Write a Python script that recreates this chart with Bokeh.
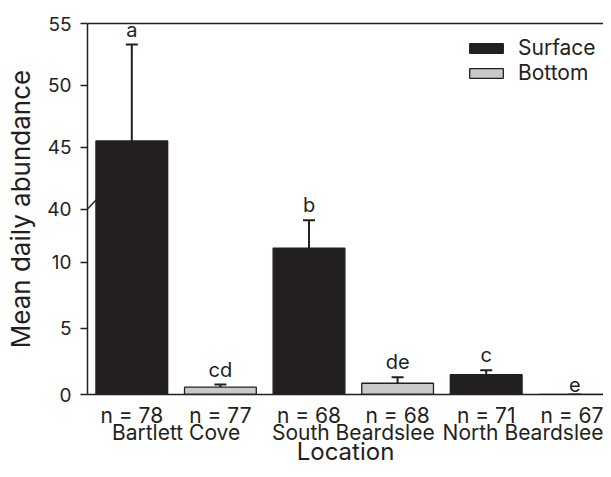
from bokeh.plotting import figure
from bokeh.models import (ColumnDataSource, Range1d, FixedTicker, LinearAxis,
                          CustomJSTickFormatter, CustomJSTransform, Whisker, TeeHead,
                          Legend, LegendItem, Arrow)
from bokeh.transform import transform
from bokeh.core.properties import value, field
from bokeh.embed import file_html
from bokeh.resources import INLINE

# ---------------- data ----------------
locations = ["Bartlett Cove", "South Beardslee", "North Beardslee"]
depths = ["Surface", "Bottom"]
n_labels = ["n = 78", "n = 77", "n = 68", "n = 68", "n = 71", "n = 67"]
surface_mean = [45.5, 11.05, 1.5]
surface_se = [7.8, 2.1, 0.33]
surface_letters = ["a", "b", "c"]
bottom_mean = [0.55, 0.85, 0.0]
bottom_se = [0.2, 0.45, 0.0]
bottom_letters = ["cd", "de", "e"]
y_ticks = [0, 5, 10, 40, 45, 50, 55]
x_title = "Location"
y_title = "Mean daily abundance"

# ---------------- style ----------------
FONT = "Inter"
INK = "#231f20"
GRAY = "#c8c9cb"
LT, UB, UT = 14.0, 40.0, 55.0      # lower segment top, upper segment bottom/top
K = 14.0 / 15.0                    # compression of upper segment
Y_MAX = LT + (UT - UB) * K
W, H = 603, 469
BL, BT, BB = 87, 23, 75
FRAME_W, FRAME_H = W - BL, H - BT - BB
X_END = FRAME_W / 88.6
N_BARS = 2 * len(locations)


def brk(y):
    if y <= LT:
        return y
    if y >= UB:
        return LT + (y - UB) * K
    return LT


brk_t = CustomJSTransform(args=dict(lt=LT, ub=UB, k=K), func="""
    return x <= lt ? x : (x >= ub ? lt + (x - ub) * k : lt);
""", v_func="""
    const out = new Array(xs.length);
    for (let i = 0; i < xs.length; i++) {
        const x = xs[i];
        out[i] = x <= lt ? x : (x >= ub ? lt + (x - ub) * k : lt);
    }
    return out;
""")

n_loc = len(locations)
src_s = ColumnDataSource(dict(
    x=[2 * i + 0.5 for i in range(n_loc)],
    top=surface_mean,
    upper=[m + s for m, s in zip(surface_mean, surface_se)],
    letter=surface_letters))
src_b = ColumnDataSource(dict(
    x=[2 * i + 1.5 for i in range(n_loc)],
    top=bottom_mean,
    upper=[m + s for m, s in zip(bottom_mean, bottom_se)],
    letter=bottom_letters))

p = figure(width=W, height=H, output_backend="svg", toolbar_location=None,
           x_range=Range1d(0, X_END), y_range=Range1d(0, Y_MAX),
           min_border_left=BL, min_border_right=0, min_border_top=BT,
           min_border_bottom=BB)
p.outline_line_color = None
p.grid.visible = False
p.background_fill_color = "white"
p.border_fill_color = "white"

rs = p.vbar(x="x", top=transform("top", brk_t), bottom=0, width=0.81, source=src_s,
            fill_color=INK, line_color=INK, line_width=1.3)
rb = p.vbar(x="x", top=transform("top", brk_t), bottom=0, width=0.81, source=src_b,
            fill_color=GRAY, line_color=INK, line_width=1.3)

for src in (src_s, src_b):
    p.add_layout(Whisker(base="x", upper=field("upper", brk_t), lower=field("top", brk_t),
                         source=src, line_color=INK, line_width=2,
                         upper_head=TeeHead(size=12, line_color=INK, line_width=2),
                         lower_head=None))
    p.text(x="x", y=transform("upper", brk_t), text="letter", source=src,
           text_align="center", text_baseline="bottom", y_offset=-3,
           text_font=value(FONT), text_font_size="20px", text_color=INK)

# break marks
px_x = FRAME_W / X_END
px_y = FRAME_H / Y_MAX
for bx in (0.0, float(N_BARS)):
    p.add_layout(Arrow(x_start=bx - 10.5 / px_x, y_start=LT - 11 / px_y,
                       x_end=bx + 10.5 / px_x, y_end=LT + 11 / px_y,
                       end=None, line_color=INK, line_width=1.5))

# y axis
yax = p.yaxis[0]
yax.ticker = FixedTicker(ticks=[brk(t) for t in y_ticks])
yax.formatter = CustomJSTickFormatter(args=dict(lt=LT, ub=UB, k=K), code="""
    if (tick < lt - 1e-6) return tick.toFixed(0);
    return (ub + (tick - lt) / k).toFixed(0);
""")
yax.axis_label = y_title
yax.axis_label_text_font = FONT
yax.axis_label_text_font_size = "26px"
yax.axis_label_text_font_style = "normal"
yax.axis_label_text_color = INK
yax.axis_label_standoff = 8
yax.major_label_text_font = FONT
yax.major_label_text_font_size = "19px"
yax.major_label_text_color = INK
yax.major_label_standoff = 9
yax.major_tick_out = 7
yax.major_tick_in = 0
yax.minor_tick_line_color = None
yax.major_tick_line_color = INK
yax.major_tick_line_width = 1.5
yax.axis_line_color = INK
yax.axis_line_width = 1.5

# x axis (sample sizes)
xax = p.xaxis[0]
xax.ticker = FixedTicker(ticks=[i + 0.5 for i in range(len(n_labels))])
xax.formatter = CustomJSTickFormatter(args=dict(labels=n_labels),
                                      code="return labels[Math.round(tick - 0.5)] || '';")
xax.major_label_text_font = FONT
xax.major_label_text_font_size = "21px"
xax.major_label_text_color = INK
xax.major_label_standoff = 8
xax.major_tick_line_color = None
xax.minor_tick_line_color = None
xax.major_tick_out = 0
xax.major_tick_in = 0
xax.axis_line_color = INK
xax.axis_line_width = 1.5

# x axis (locations) with the axis title
lax = LinearAxis(ticker=FixedTicker(ticks=[2 * i + 1 for i in range(n_loc)]),
                 formatter=CustomJSTickFormatter(args=dict(labels=locations),
                                                 code="return labels[Math.round((tick - 1) / 2)] || '';"))
lax.axis_line_color = None
lax.major_tick_line_color = None
lax.minor_tick_line_color = None
lax.major_tick_out = 0
lax.major_tick_in = 0
lax.major_label_standoff = -11
lax.major_label_text_font = FONT
lax.major_label_text_font_size = "21px"
lax.major_label_text_color = INK
lax.axis_label = x_title
lax.axis_label_text_font = FONT
lax.axis_label_text_font_size = "24px"
lax.axis_label_text_font_style = "normal"
lax.axis_label_text_color = INK
lax.axis_label_standoff = -11
p.add_layout(lax, "below")

# top frame line
tax = LinearAxis(ticker=FixedTicker(ticks=[]), major_label_text_font_size="0px",
                 major_tick_out=0, major_tick_in=0, major_label_standoff=0,
                 minor_tick_line_color=None, major_tick_line_color=None,
                 axis_line_color=INK, axis_line_width=1.5)
p.add_layout(tax, "above")

legend = Legend(items=[LegendItem(label=depths[0], renderers=[rs]),
                       LegendItem(label=depths[1], renderers=[rb])],
                location=(378, 309), glyph_width=42, glyph_height=12,
                label_standoff=11, spacing=0, padding=0, margin=0,
                border_line_color=None, background_fill_alpha=0,
                label_text_font=FONT, label_text_font_size="21px",
                label_text_color=INK, label_height=12)
p.add_layout(legend)

open("out.html", "w").write(file_html(p, INLINE))
